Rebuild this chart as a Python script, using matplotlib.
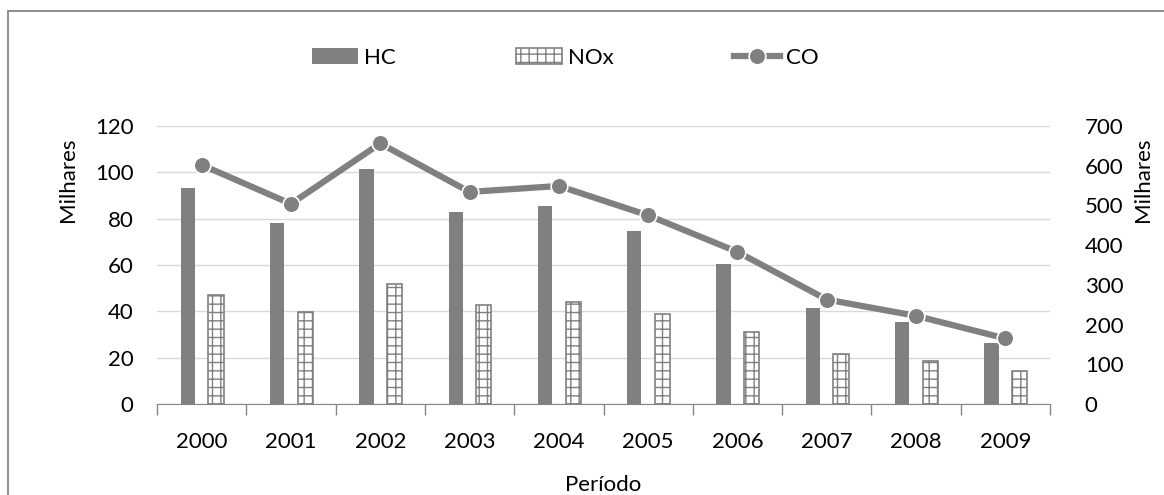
import matplotlib
matplotlib.use("Agg")
import matplotlib.pyplot as plt
import numpy as np
from matplotlib.patches import Rectangle

plt.rcParams['font.family'] = ['Lato', 'DejaVu Sans']
plt.rcParams['hatch.linewidth'] = 1.0
plt.rcParams['hatch.color'] = '#808080'

years = ['2000', '2001', '2002', '2003', '2004', '2005', '2006', '2007', '2008', '2009']
hc = [93.1, 78.1, 101.3, 82.7, 85.5, 74.7, 60.3, 41.3, 35.2, 26.3]
nox = [47.0, 39.6, 51.8, 42.6, 44.2, 38.8, 31.2, 21.7, 18.7, 14.1]
co = [602, 504, 656, 534, 549, 475, 383, 263, 222, 165]

gray = '#808080'
fs = 16
W, H = 1164, 495
fig = plt.figure(figsize=(W / 100, H / 100), dpi=100)

# outer border
fig.patches.append(Rectangle((8 / W, -0.1), 1.2, 1 - 11 / H + 0.1, transform=fig.transFigure,
                             fill=False, edgecolor='#868686', linewidth=1.3))

ax = fig.add_axes([157 / W, 1 - 404 / H, (1050 - 157) / W, (404 - 126) / H])
x = np.arange(len(years))
w = 0.16
ax.bar(x - 0.155, hc, width=w, color=gray, label='HC', zorder=2)
ax.bar(x + 0.16, nox, width=w + 0.01, facecolor='white', edgecolor=gray, hatch='++',
       linewidth=1.2, label='NOx', zorder=2)

ax.set_xlim(-0.5, len(years) - 0.5)
ax.set_ylim(0, 120)
ax.set_yticks(np.arange(0, 121, 20))
ax.grid(axis='y', color='#d9d9d9', linewidth=1.0, zorder=0)
ax.set_axisbelow(True)
for s in ['top', 'left', 'right']:
    ax.spines[s].set_visible(False)
ax.spines['bottom'].set_color('#868686')
ax.spines['bottom'].set_zorder(3)
ax.set_xticks(x)
ax.set_xticklabels(years)
ax.set_xticks(np.arange(-0.5, len(years), 1), minor=True)
ax.tick_params(axis='x', which='major', length=0, pad=20, labelsize=fs)
ax.tick_params(axis='x', which='minor', length=8, color='#868686', width=1)
ax.tick_params(axis='y', length=0, pad=17, labelsize=fs)
ax.set_ylabel('Milhares', fontsize=fs)
ax.yaxis.set_label_coords((78 - 157) / 893, (404 - 180) / 278)
ax.set_xlabel('Período', fontsize=fs, labelpad=17)

ax2 = ax.twinx()
ax2.plot(x, co, color=gray, linewidth=4.5, marker='o', markersize=12,
         markeredgecolor='white', markeredgewidth=1.2, label='CO', zorder=5)
ax2.set_ylim(0, 700)
ax2.set_yticks(np.arange(0, 701, 100))
for s in ['top', 'left', 'right', 'bottom']:
    ax2.spines[s].set_visible(False)
ax2.tick_params(axis='y', length=0, pad=25, labelsize=fs)
ax2.set_ylabel('Milhares', fontsize=fs)
ax2.yaxis.set_label_coords((1133 - 157) / 893, (404 - 180) / 278)

h1, l1 = ax.get_legend_handles_labels()
h2, l2 = ax2.get_legend_handles_labels()
fig.legend(h1 + h2, l1 + l2, loc='center', bbox_to_anchor=(565 / W, 1 - 58 / H), ncol=3,
           frameon=False, fontsize=fs, handlelength=2.1, handleheight=0.7,
           columnspacing=5.4, handletextpad=0.25)

fig.savefig('out.png', dpi=100)
